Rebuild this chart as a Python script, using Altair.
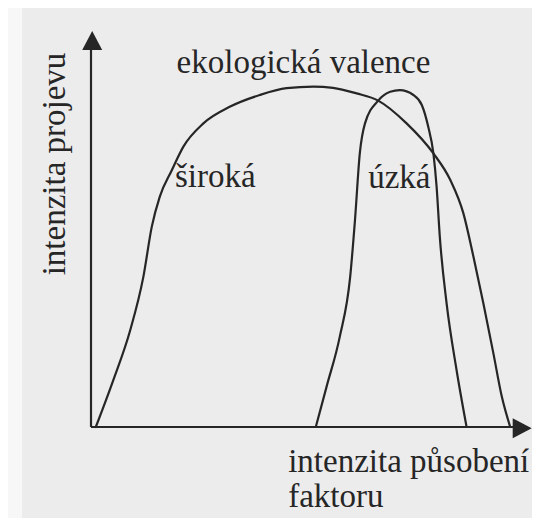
import altair as alt
import pandas as pd

# ---- data (units: axis origin = 0,0) ----
broad_x = [1.2, 5.6, 9.8, 13.1, 15.2, 17.2, 20.2, 23.1, 28.1, 34.8, 42.2, 48.9, 55.6, 60.5, 66.4, 71.8,
           78.9, 85.6, 89.8, 93.1, 95.6, 98.1, 100.6, 102.7, 104.8]
broad_y = [0.0, 11.8, 24.2, 37.6, 50.1, 57.6, 64.2, 70.1, 75.9, 80.1, 83.0, 84.7, 85.1, 84.8, 83.4, 81.6,
           75.9, 68.4, 61.8, 53.4, 42.6, 30.9, 18.4, 7.6, 0.0]
narrow_x = [56.2, 58.9, 62.2, 64.8, 66.0, 67.2, 68.5, 71.8, 74.8, 77.2, 80.6, 82.7, 84.3, 85.6, 86.4,
            87.2, 88.9, 91.4, 93.9]
narrow_y = [0.0, 10.1, 22.6, 37.6, 51.8, 68.4, 75.9, 81.6, 83.8, 84.2, 83.0, 80.5, 75.1, 68.4, 60.1,
            47.6, 30.9, 14.2, 0.0]

title_text = "ekologická valence"
curve_labels = ["široká", "úzká"]
y_title = "intenzita projevu"
x_title = ["intenzita působení", "faktoru"]

INK = "#262626"
FONT = "Liberation Serif"

curves = pd.DataFrame(
    {"u": broad_x + narrow_x,
     "v": broad_y + narrow_y,
     "curve": ["broad"] * len(broad_x) + ["narrow"] * len(narrow_x)}
)

X = alt.Scale(domain=[-20.75, 110.25], nice=False, zero=False)
Y = alt.Scale(domain=[-22.75, 104.75], nice=False, zero=False)


def xe(field="u"):
    return alt.X(f"{field}:Q", scale=X, axis=None)


def ye(field="v"):
    return alt.Y(f"{field}:Q", scale=Y, axis=None)


paper = alt.Chart(pd.DataFrame({"a": [0]})).mark_rect(color="#f7f7f7").encode(
    x=alt.value(0), x2=alt.value(14), y=alt.value(0), y2=alt.value(510)
)

lines = alt.Chart(curves).mark_line(
    interpolate="monotone", strokeWidth=2.2, color=INK, strokeCap="round"
).encode(x=xe(), y=ye(), detail="curve:N")

axes_df = pd.DataFrame({"u": [0, 0], "v": [0, 0], "u2": [0, 107], "v2": [94.5, 0]})
axes = alt.Chart(axes_df).mark_rule(strokeWidth=2.2, color=INK).encode(
    x=xe(), y=ye(), x2="u2:Q", y2="v2:Q"
)

arrow_up = alt.Chart(pd.DataFrame({"u": [0.3], "v": [96.6]})).mark_point(
    shape="M0,-0.95L-1,0.95L1,0.95Z", size=400, filled=True, color=INK, opacity=1
).encode(x=xe(), y=ye())

arrow_right = alt.Chart(pd.DataFrame({"u": [107.8], "v": [-0.3]})).mark_point(
    shape="M0.95,0L-0.95,-1L-0.95,1Z", size=400, filled=True, color=INK, opacity=1
).encode(x=xe(), y=ye())

labels_df = pd.DataFrame({
    "text": [title_text] + curve_labels + x_title,
    "u": [21.4, 21.0, 69.3, 49.3, 49.3],
    "v": [88.4, 60.1, 59.7, -11.2, -19.9],
})
labels = alt.Chart(labels_df).mark_text(
    font=FONT, fontSize=33, align="left", baseline="alphabetic", color=INK
).encode(x=xe(), y=ye(), text="text:N")

ylab = alt.Chart(pd.DataFrame({"text": [y_title], "u": [-6.5], "v": [65.75]})).mark_text(
    font=FONT, fontSize=33, align="center", baseline="alphabetic", angle=270, color=INK
).encode(x=xe(), y=ye(), text="text:N")

chart = alt.layer(paper, lines, axes, arrow_up, arrow_right, labels, ylab).properties(
    width=524, height=510, background="#ececec", padding=0,
    autosize=alt.AutoSizeParams(type="none")
).configure_view(stroke=None)

chart.save("out.html", embed_options={"renderer": "svg", "actions": False})
